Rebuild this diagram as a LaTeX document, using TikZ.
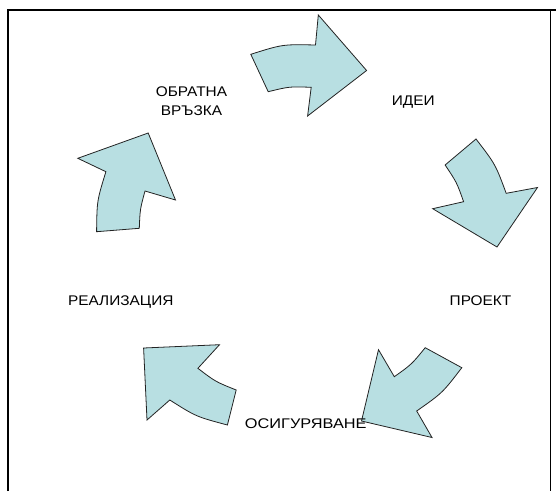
\documentclass[tikz,border=0pt]{standalone}
\usepackage{fontspec}
\setmainfont{Liberation Sans}
\definecolor{arrowfill}{RGB}{184,223,226}
\definecolor{arrowline}{RGB}{35,35,35}
\begin{document}
\begin{tikzpicture}[x=1pt,y=-1pt,
  blockarrow/.style={draw=arrowline, line width=0.8pt, fill=arrowfill, line join=miter},
  steptext/.style={font=\fontsize{14}{19}\selectfont, text=black, inner sep=0pt, anchor=base, xscale=1.1},
  frameline/.style={draw=black, line width=2pt}]
\useasboundingbox (0,0) rectangle (557,491);

% page frame (open at the bottom)
\coordinate (fbl) at (8,491);
\coordinate (ftl) at (8,9.5);
\coordinate (ftr) at (556,9.5);
\coordinate (rtop) at (550,9.5);
\coordinate (rbot) at (550,491);
\draw[frameline] (fbl) -- (ftl) -- (ftr);
\draw[frameline, line width=1pt] (rtop) -- (rbot);

% five curved block arrows around the cycle
\draw[blockarrow] (250.8,54.3) .. controls (282.55,44.26) .. (315.5,45) -- (318.3,15) -- (366.6,70.5)
  -- (307.6,116) -- (311.2,87.3) .. controls (289.41,86.52) .. (268.2,91.7) -- cycle;
\draw[blockarrow] (476,139) .. controls (495.45,164.31) .. (506.2,193.3) -- (537.5,187.5) -- (497,247)
  -- (432.7,208.7) -- (463.6,201.7) .. controls (456.75,182.36) .. (445.1,165) -- cycle;
\draw[blockarrow] (461.8,367.7) .. controls (442.52,392.86) .. (416.7,411) -- (432,437.5) -- (361.5,421)
  -- (378.5,349.7) -- (394.3,376.7) .. controls (411.65,364.33) .. (425.2,347.7) -- cycle;
\draw[blockarrow] (227.4,425) .. controls (196,416.6) .. (169.8,400) -- (147,420) -- (143.6,348)
  -- (219.5,344.7) -- (197.9,368.3) .. controls (215.4,381.67) .. (236.2,390) -- cycle;
\draw[blockarrow] (96.6,231.7) .. controls (96.94,200.78) .. (105.9,171.7) -- (77.8,158.3) -- (148.2,133)
  -- (175.5,200) -- (145,191) .. controls (140.07,209.2) .. (139.3,228.3) -- cycle;

% stage labels
\node[steptext] (obratna) at (191.5,96.7) {ОБРАТНА};
\node[steptext] (vrazka) at (191.5,115.7) {ВРЪЗКА};
\node[steptext] (idei) at (413.3,105) {ИДЕИ};
\node[steptext] (proekt) at (480.5,305.7) {ПРОЕКТ};
\node[steptext] (realiz) at (120.8,305.7) {РЕАЛИЗАЦИЯ};
\node[steptext, xscale=1.06] (osig) at (305.8,428.3) {ОСИГУРЯВАНЕ};
\end{tikzpicture}
\end{document}
